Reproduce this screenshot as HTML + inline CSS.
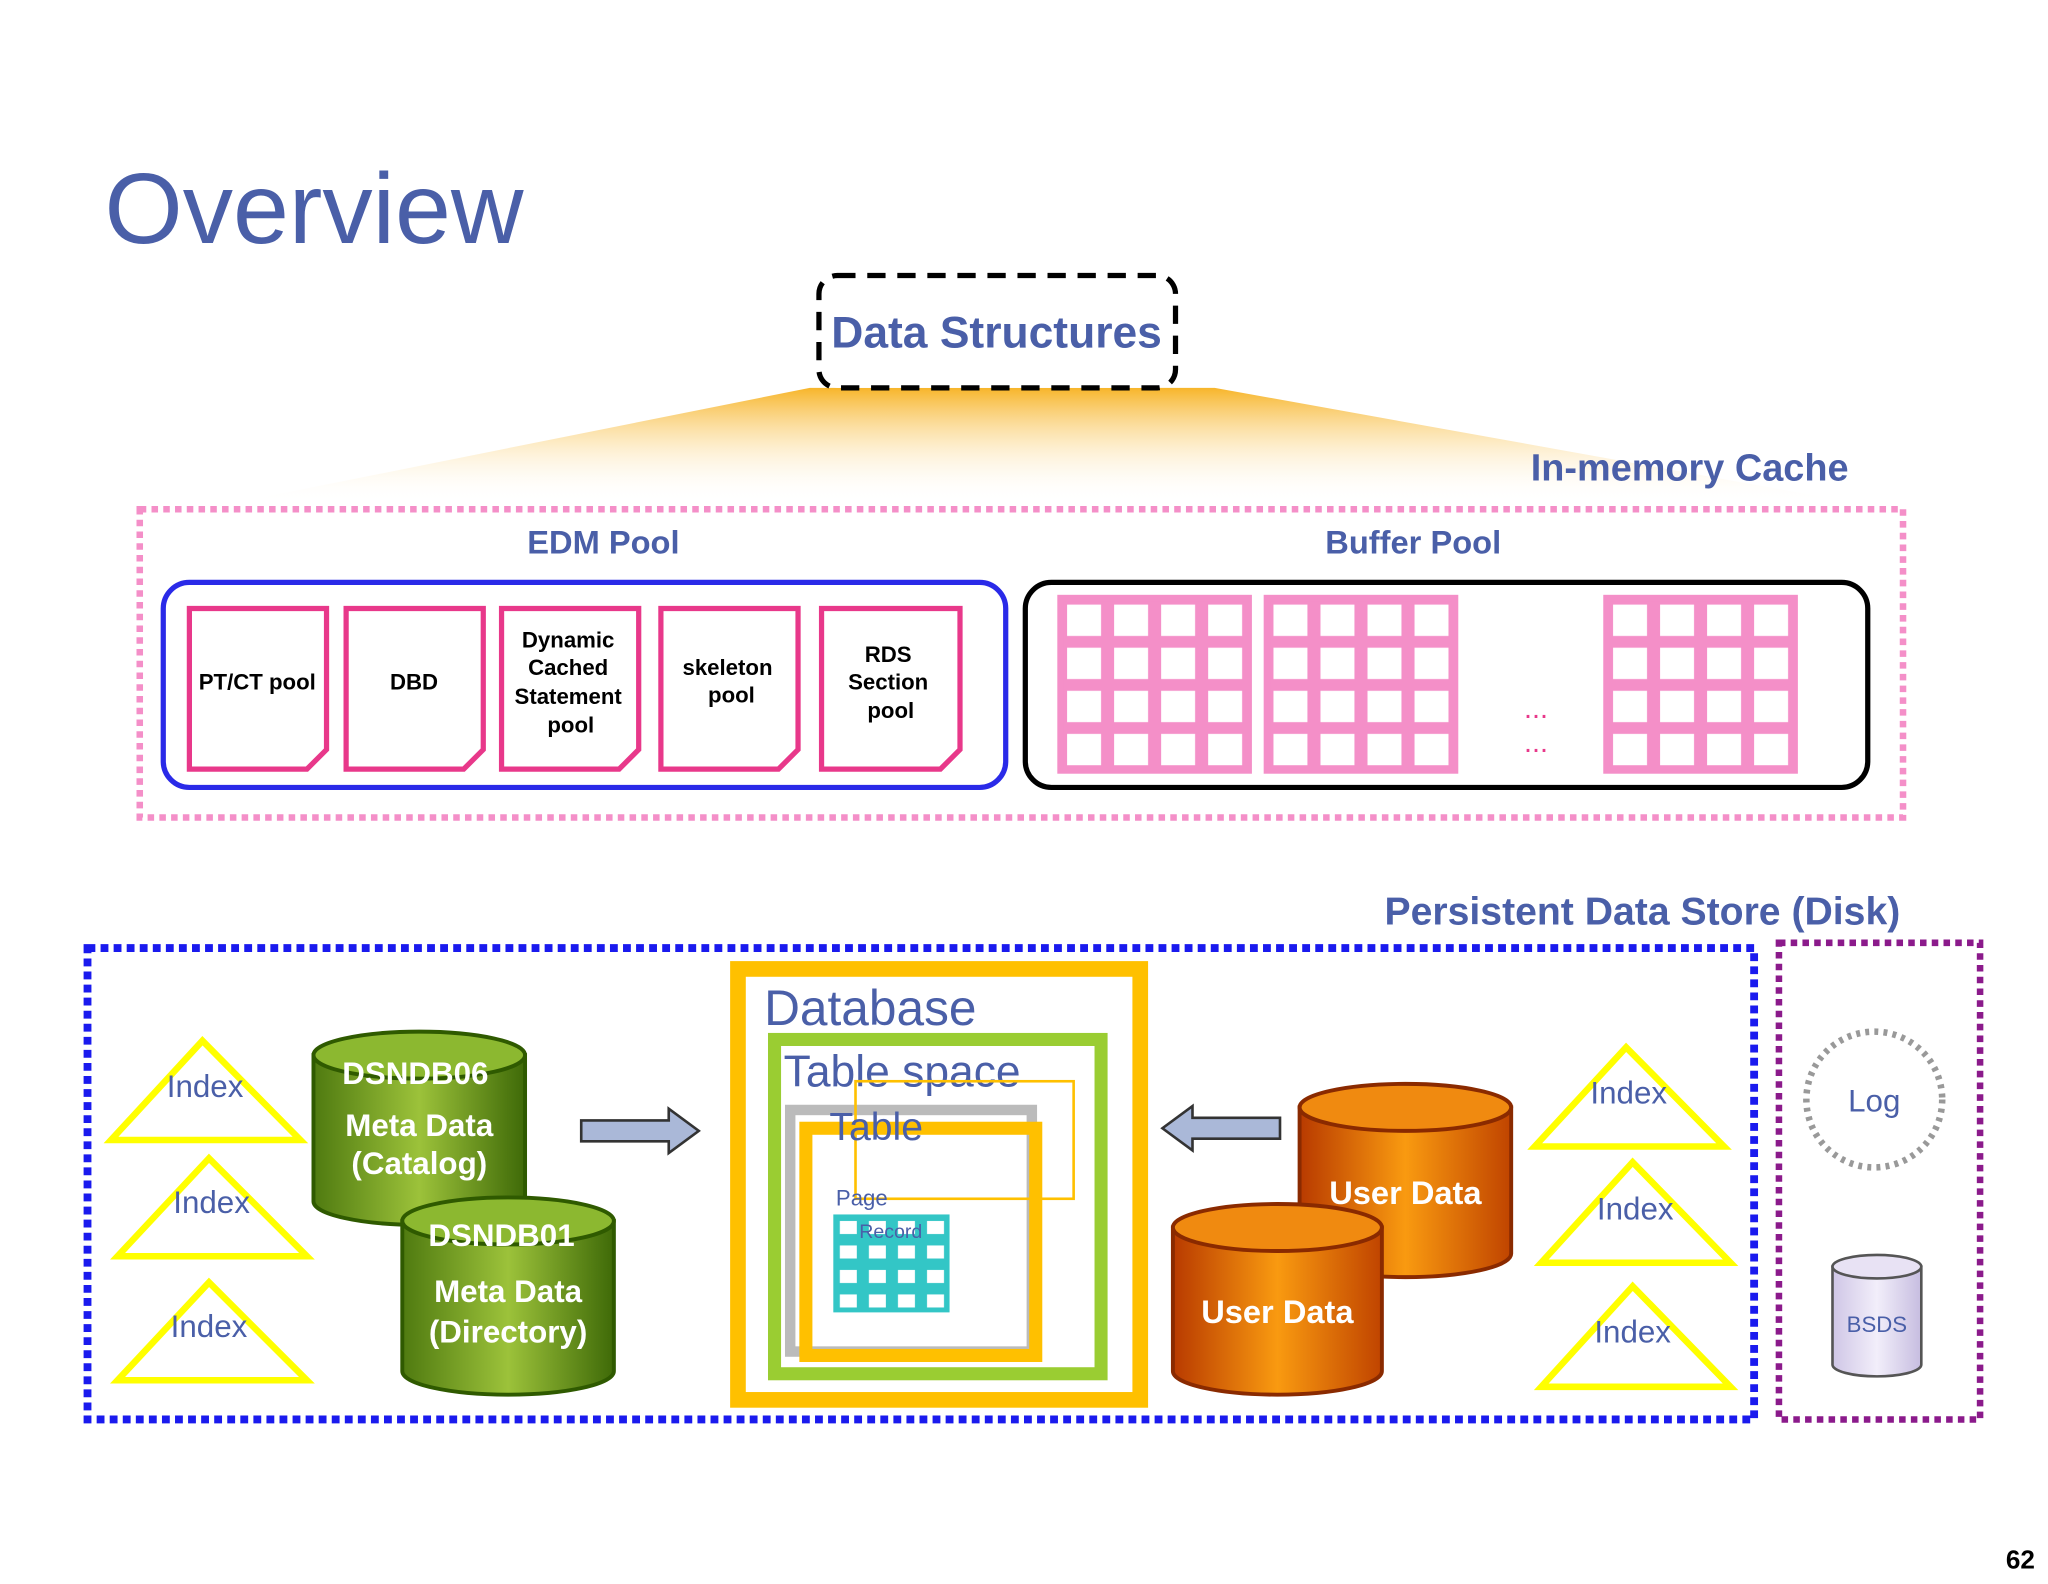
<!DOCTYPE html>
<html><head><meta charset="utf-8"><style>html,body{margin:0;padding:0;background:#fff}svg{display:block}</style></head><body>
<svg width="2048" height="1584" viewBox="0 0 1568 1213" preserveAspectRatio="none" xmlns="http://www.w3.org/2000/svg" font-family="Liberation Sans, sans-serif">
<defs>
<linearGradient id="og" x1="0" y1="0" x2="0" y2="1"><stop offset="0" stop-color="#f7b52a"/><stop offset="1" stop-color="#fff" stop-opacity="0"/></linearGradient>
<linearGradient id="gc" x1="0" y1="0" x2="1" y2="0"><stop offset="0" stop-color="#4f7a10"/><stop offset=".5" stop-color="#9cc23a"/><stop offset="1" stop-color="#3f6a08"/></linearGradient>
<linearGradient id="oc" x1="0" y1="0" x2="1" y2="0"><stop offset="0" stop-color="#b83a00"/><stop offset=".5" stop-color="#f99a10"/><stop offset="1" stop-color="#c04400"/></linearGradient>
<linearGradient id="pc" x1="0" y1="0" x2="1" y2="0"><stop offset="0" stop-color="#cfc6e6"/><stop offset=".5" stop-color="#f2eefa"/><stop offset="1" stop-color="#c6bde0"/></linearGradient>
<pattern id="pg" width=".25" height=".25" patternUnits="objectBoundingBox"><rect width="36" height="33" fill="#f48fc8"/><rect x="5" y="5" width="26" height="24" fill="#fff"/></pattern>
<pattern id="tg" width=".25" height=".25" patternUnits="objectBoundingBox"><rect width="23" height="19" fill="#33c6c6"/><rect x="5" y="5" width="13" height="10" fill="#fff"/></pattern>
</defs>
<text x="80" y="186" font-size="77" fill="#4a5fa8">Overview</text>
<polygon points="620,297 930,297 1420,385 180,385" fill="url(#og)"/>
<rect x="627" y="211" width="273" height="86" rx="14" fill="#fff" stroke="#000" stroke-width="4" stroke-dasharray="14,9"/>
<text x="763" y="266" font-size="34" font-weight="bold" fill="#4a5fa8" text-anchor="middle">Data Structures</text>
<text x="1172" y="368" font-size="29" font-weight="bold" fill="#4a5fa8">In-memory Cache</text>
<rect x="107" y="390" width="1350" height="236" fill="none" stroke="#f48fc8" stroke-width="5" stroke-dasharray="5,4"/>
<text x="462" y="424" font-size="25" font-weight="bold" fill="#4a5fa8" text-anchor="middle">EDM Pool</text>
<text x="1082" y="424" font-size="25" font-weight="bold" fill="#4a5fa8" text-anchor="middle">Buffer Pool</text>
<rect x="125" y="446" width="645" height="157" rx="20" fill="none" stroke="#2a2ae8" stroke-width="4"/>
<g fill="#fff" stroke="#e8388a" stroke-width="4">
<path d="M145,466 H250 V574 L235,589 H145 Z"/>
<path d="M265,466 H370 V574 L355,589 H265 Z"/>
<path d="M384,466 H489 V574 L474,589 H384 Z"/>
<path d="M506,466 H611 V574 L596,589 H506 Z"/>
<path d="M629,466 H735 V574 L720,589 H629 Z"/>
</g>
<g font-size="17" font-weight="bold" text-anchor="middle" fill="#000">
<text x="197" y="528">PT/CT pool</text>
<text x="317" y="528">DBD</text>
<text x="435" y="496">Dynamic</text><text x="435" y="517">Cached</text><text x="435" y="539">Statement</text><text x="437" y="561">pool</text>
<text x="557" y="517">skeleton</text><text x="560" y="538">pool</text>
<text x="680" y="507">RDS</text><text x="680" y="528">Section</text><text x="682" y="550">pool</text>
</g>
<rect x="785" y="446" width="645" height="157" rx="20" fill="none" stroke="#000" stroke-width="4"/>
<rect x="812" y="458" width="144" height="132" fill="url(#pg)"/>
<rect x="970" y="458" width="144" height="132" fill="url(#pg)"/>
<rect x="1230" y="458" width="144" height="132" fill="url(#pg)"/>
<rect x="955" y="456" width="5" height="136" fill="#fff"/><rect x="1113" y="456" width="5" height="136" fill="#fff"/><rect x="1373" y="456" width="5" height="136" fill="#fff"/>
<rect x="812" y="458" width="144" height="132" fill="none" stroke="#f48fc8" stroke-width="5"/>
<rect x="970" y="458" width="144" height="132" fill="none" stroke="#f48fc8" stroke-width="5"/>
<rect x="1230" y="458" width="144" height="132" fill="none" stroke="#f48fc8" stroke-width="5"/>
<text x="1176" y="550" font-size="22" fill="#e8388a" text-anchor="middle">...</text>
<text x="1176" y="576" font-size="22" fill="#e8388a" text-anchor="middle">...</text>
<text x="1060" y="708" font-size="30" font-weight="bold" fill="#4a5fa8">Persistent Data Store (Disk)</text>
<rect x="67" y="726" width="1276" height="361" fill="none" stroke="#1a1aee" stroke-width="6" stroke-dasharray="6,4"/>
<rect x="1362" y="722" width="154" height="365" fill="none" stroke="#8b1a8b" stroke-width="5" stroke-dasharray="5,4"/>
<g fill="none" stroke="#ffff00" stroke-width="5">
<polygon points="155,797 85,873 230,873"/><polygon points="160,887 90,962 235,962"/><polygon points="160,982 90,1057 235,1057"/>
<polygon points="1245,802 1175,878 1320,878"/><polygon points="1250,890 1180,967 1325,967"/><polygon points="1250,985 1180,1062 1325,1062"/>
</g>
<g font-size="24" fill="#4a5fa8" text-anchor="middle">
<text x="157" y="840">Index</text><text x="162" y="929">Index</text><text x="160" y="1024">Index</text>
<text x="1247" y="845">Index</text><text x="1252" y="934">Index</text><text x="1250" y="1028">Index</text>
</g>
<g stroke="#2f5a00" stroke-width="3">
<path d="M240,808 V920 A81,18 0 0 0 402,920 V808 Z" fill="url(#gc)"/><ellipse cx="321" cy="808" rx="81" ry="18" fill="#8cb830"/>
<path d="M308,935 V1050 A81,18 0 0 0 470,1050 V935 Z" fill="url(#gc)"/><ellipse cx="389" cy="935" rx="81" ry="18" fill="#8cb830"/>
</g>
<g font-size="24" font-weight="bold" fill="#fff" text-anchor="middle">
<text x="318" y="830">DSNDB06</text><text x="321" y="870">Meta Data</text><text x="321" y="899">(Catalog)</text>
<text x="384" y="954">DSNDB01</text><text x="389" y="997">Meta Data</text><text x="389" y="1028">(Directory)</text>
</g>
<g stroke="#333" stroke-width="2" fill="#aab8d8">
<path d="M445,858 H512 V849 L535,866 L512,883 V874 H445 Z"/>
<path d="M980,856 H913 V847 L890,864 L913,881 V872 H980 Z"/>
</g>
<rect x="565" y="742" width="308" height="330" fill="#fff" stroke="#ffc000" stroke-width="12"/>
<text x="585" y="785" font-size="38" fill="#4a5fa8">Database</text>
<rect x="593" y="796" width="250" height="256" fill="none" stroke="#9acd32" stroke-width="10"/>
<text x="600" y="832" font-size="34" fill="#4a5fa8">Table space</text>
<rect x="605" y="850" width="185" height="185" fill="none" stroke="#bbb" stroke-width="8"/>
<rect x="655" y="828" width="167" height="90" fill="none" stroke="#ffc000" stroke-width="2"/>
<rect x="617" y="864" width="176" height="174" fill="none" stroke="#ffc000" stroke-width="10"/>
<text x="635" y="873" font-size="30" fill="#4a5fa8">Table</text>
<text x="640" y="923" font-size="17" fill="#4a5fa8">Page</text>
<rect x="638" y="930" width="89" height="75" fill="url(#tg)"/>
<text x="682" y="948" font-size="15" fill="#4a5fa8" text-anchor="middle">Record</text>
<g stroke="#8a2a00" stroke-width="3">
<path d="M995,848 V960 A81,18 0 0 0 1157,960 V848 Z" fill="url(#oc)"/><ellipse cx="1076" cy="848" rx="81" ry="18" fill="#f08a10"/>
<path d="M898,940 V1050 A80,18 0 0 0 1058,1050 V940 Z" fill="url(#oc)"/><ellipse cx="978" cy="940" rx="80" ry="18" fill="#f08a10"/>
</g>
<g font-size="25" font-weight="bold" fill="#fff" text-anchor="middle">
<text x="1076" y="922">User Data</text><text x="978" y="1013">User Data</text>
</g>
<circle cx="1435" cy="842" r="52" fill="none" stroke="#999" stroke-width="5" stroke-dasharray="3,4"/>
<text x="1435" y="851" font-size="24" fill="#4a5fa8" text-anchor="middle">Log</text>
<path d="M1403,970 V1045 A34,9 0 0 0 1471,1045 V970 Z" fill="url(#pc)" stroke="#555" stroke-width="2"/>
<ellipse cx="1437" cy="970" rx="34" ry="9" fill="#e8e2f4" stroke="#555" stroke-width="2"/>
<text x="1437" y="1020" font-size="17" fill="#4a5fa8" text-anchor="middle">BSDS</text>
<text x="1558" y="1201" font-size="20" font-weight="bold" text-anchor="end">62</text>
</svg>
</body></html>
